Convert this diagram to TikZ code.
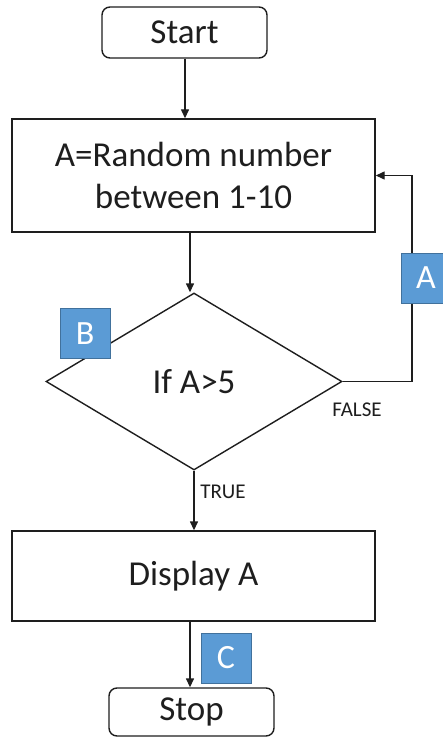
\documentclass[tikz,border=0pt]{standalone}
\usepackage{fontspec}
\setmainfont{Carlito}
\usetikzlibrary{shapes.geometric,arrows.meta}
\definecolor{tag}{HTML}{5B9BD5}
\definecolor{tagb}{HTML}{41719C}
\definecolor{ink}{HTML}{1E1E1E}
\begin{document}
\begin{tikzpicture}[x=1pt,y=-1pt,
  every node/.style={text=ink},
  line/.style={draw=ink,line width=1.4pt},
  arr/.style={line,-{Triangle[length=9pt,width=8pt]}},
  term/.style={line,rounded corners=8pt,inner sep=0pt,font=\fontsize{35}{41}\selectfont},
  proc/.style={line,inner sep=0pt,align=center,font=\fontsize{35}{42}\selectfont},
  cond/.style={line,diamond,inner sep=0pt,font=\fontsize{35}{41}\selectfont},
  tagbox/.style={fill=tag,draw=tagb,line width=0.8pt,minimum width=50pt,minimum height=50pt,inner sep=0pt,text=white,font=\fontsize{34}{40}\selectfont},
  lbl/.style={font=\fontsize{21}{25}\selectfont,inner sep=0pt}]
\useasboundingbox (0,0) rectangle (442,738);
\fill[white] (0,0) rectangle (442,738);
\node[term,minimum width=165pt,minimum height=51pt] (start) at (184.5,32.5) {Start};
\node[proc,minimum width=363pt,minimum height=113pt] (gen) at (193.5,175.5) {A=Random number\\between 1-10};
\node[cond,minimum width=296pt,minimum height=177pt] (dec) at (194,381.5) {If A>5};
\node[proc,minimum width=363pt,minimum height=90pt] (disp) at (193.5,576) {Display A};
\node[term,minimum width=165pt,minimum height=48pt] (stop) at (191.5,712) {Stop};
\coordinate (turn) at (412,381.5);
\coordinate (s1) at (185,0);
\coordinate (s2) at (190,0);
\draw[arr] (start.south -| s1) -- (gen.north -| s1);
\draw[arr] (gen.south -| s2) -- (dec.north -| s2);
\draw[arr] (dec.south) -- (disp.north -| dec.south);
\draw[arr] (disp.south -| s2) -- (stop.north -| s2);
\draw[arr] (dec.east) -- (turn) |- (gen.east);
\node[lbl] (false) at (357,410) {FALSE};
\node[lbl] (true) at (223,492) {TRUE};
\node[tagbox] (ta) at (426,278) {A};
\node[tagbox] (tb) at (85,333.5) {B};
\node[tagbox] (tc) at (226,658) {C};
\end{tikzpicture}
\end{document}
